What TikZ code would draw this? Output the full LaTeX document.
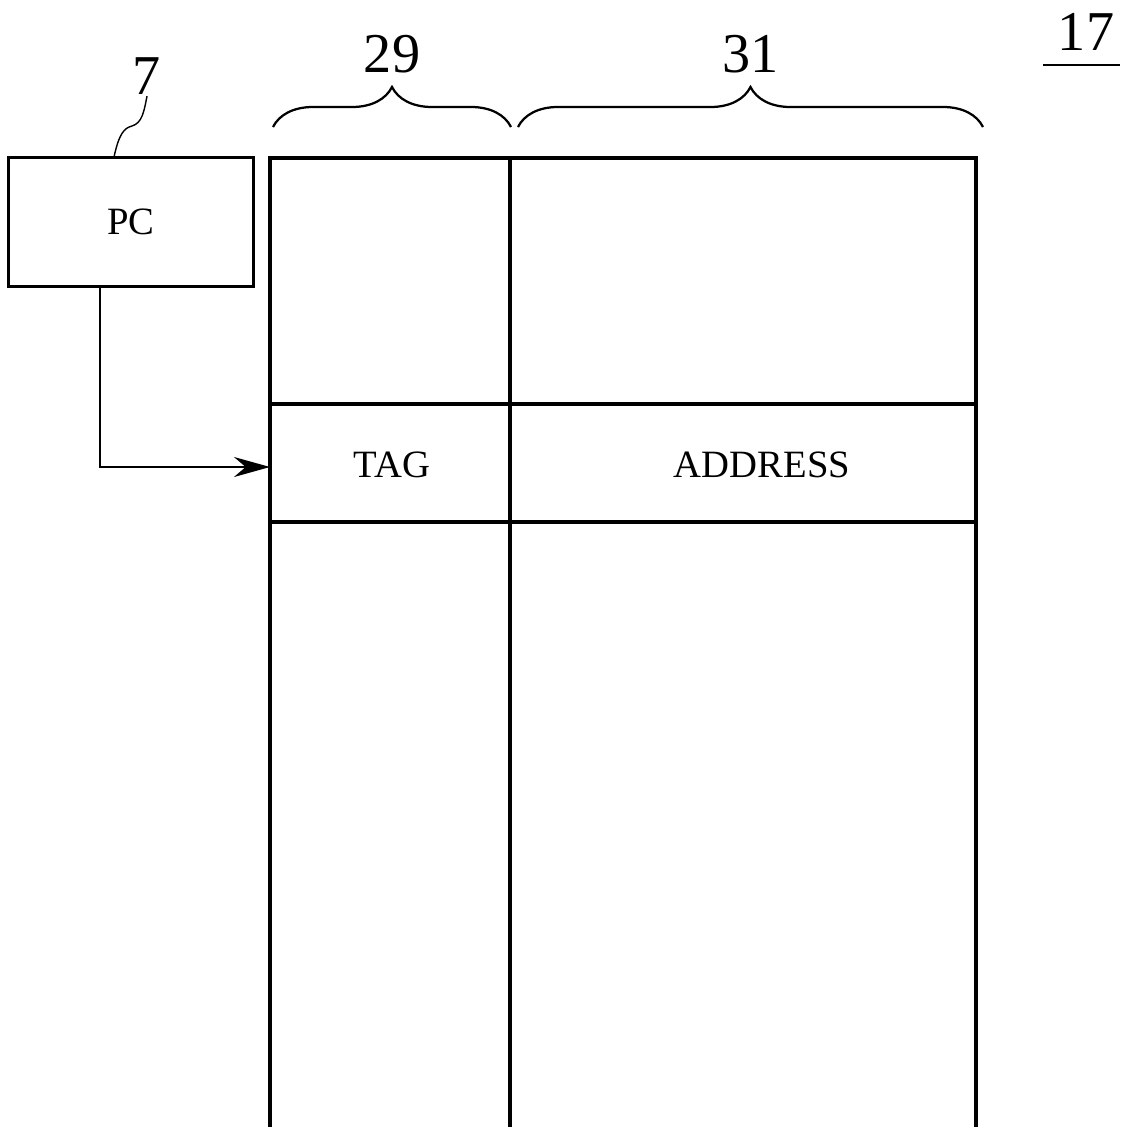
\documentclass[tikz,border=0pt]{standalone}
\usepackage{fontspec}
\setmainfont{Liberation Serif}
\usetikzlibrary{decorations.pathreplacing,arrows.meta}

\begin{document}
\begin{tikzpicture}[x=0.025cm, y=-0.025cm,
        line width=2.4pt,
        lbl/.style={font=\fontsize{27.5}{27.5}\selectfont},
        num/.style={font=\fontsize{40}{40}\selectfont, inner sep=0pt},
        brc/.style={decorate, decoration={brace, amplitude=1.0cm}, line width=1.6pt}]
    \useasboundingbox (0,0) rectangle (1125,1127);
    % PC register and its label
    \node[draw, minimum width=6.125cm, minimum height=3.225cm, lbl] (pc) at (131,222) {PC};
    \node[num] (seven) at (147,76) {7};
    \draw[line width=1pt] (114,157) .. controls (119,134) and (124,128) .. (132,126) .. controls (142,123) and (144,112) .. (seven.south);
    % table 17
    \draw (270,1127) -- (270,158) -- (976,158) -- (976,1127);
    \draw (510,158) -- (510,1127);
    \draw (270,404) -- (976,404);
    \draw (270,522) -- (976,522);
    \node[lbl] (tag) at (392,465) {TAG};
    \node[lbl] (addr) at (762,465) {ADDRESS};
    \coordinate (tagin) at (270,467);
    \draw[line width=1.3pt, -{Stealth[length=0.9cm, width=0.5cm]}] (pc.south) ++(-31,0) |- (tagin);
    % field braces
    \draw[brc] (273,127) -- (511,127) node[num, midway, above=1.33cm] (f29) {29};
    \draw[brc] (518,127) -- (983,127) node[num, midway, above=1.33cm] (f31) {31};
    \node[num] (fig) at (1086,32) {17};
    \draw[line width=1.6pt] (1043,65) -- (1120,65);
\end{tikzpicture}
\end{document}
